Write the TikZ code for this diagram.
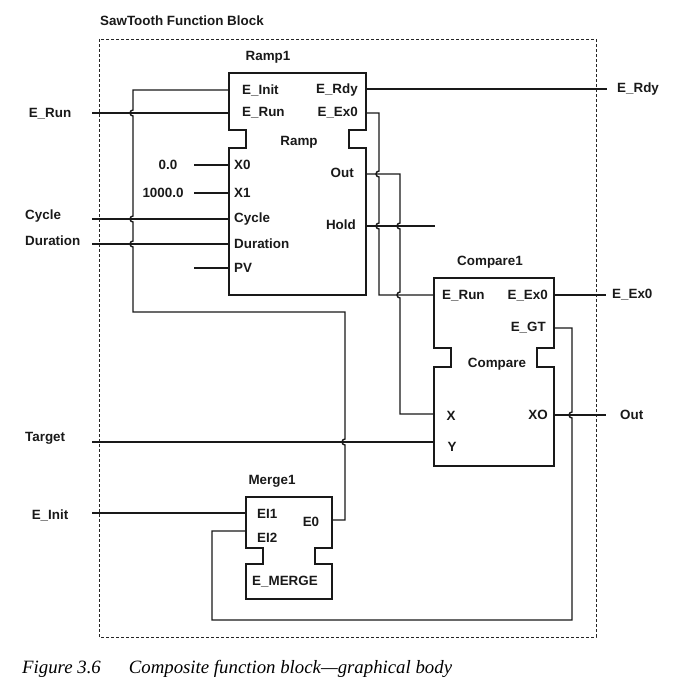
\documentclass[tikz,border=0pt]{standalone}
\usepackage{fontspec}
\setmainfont{Liberation Sans}
\newfontfamily\capfont{Liberation Serif}
% outline of a function block: left, top, right, bottom, notch top, notch bottom
\newcommand{\fbshape}[6]{\draw[blk] (#1,#2) -- (#3,#2) -- (#3,#5) -- (#3-17,#5) -- (#3-17,#6) -- (#3,#6) -- (#3,#4) -- (#1,#4) -- (#1,#6) -- (#1+17,#6) -- (#1+17,#5) -- (#1,#5) -- cycle;}
\begin{document}
\begin{tikzpicture}[x=1pt,y=-1pt,
	wire/.style={line width=1.4pt,black!90},
	blk/.style={line width=1.7pt,black!90},
	lbl/.style={font=\fontsize{13.4}{15}\selectfont\bfseries,inner sep=0pt,text=black!90}]
	\useasboundingbox (0,0) rectangle (674,690);
	% frame
	\draw[line width=0.9pt,dash pattern=on 3pt off 2pt,black!85] (99,39) rectangle (596,637);
	\node[lbl,anchor=west] (title) at (100,21) {SawTooth Function Block};
	% blocks
	\fbshape{229}{73}{366}{295}{130}{148}
	\fbshape{434}{278}{554}{466}{348}{367}
	\fbshape{246}{497}{332}{599}{548}{564}
	% ports
	\coordinate (r-einit) at (229,90);
	\coordinate (r-erun) at (229,113);
	\coordinate (r-x0) at (229,165);
	\coordinate (r-x1) at (229,193);
	\coordinate (r-cycle) at (229,219);
	\coordinate (r-dur) at (229,244);
	\coordinate (r-pv) at (229,268);
	\coordinate (r-erdy) at (366,89);
	\coordinate (r-eex0) at (366,113);
	\coordinate (r-out) at (366,174);
	\coordinate (r-hold) at (366,226);
	\coordinate (c-erun) at (434,295);
	\coordinate (c-x) at (434,414);
	\coordinate (c-y) at (434,442);
	\coordinate (c-eex0) at (554,295);
	\coordinate (c-egt) at (554,328);
	\coordinate (c-xo) at (554,415);
	\coordinate (m-ei1) at (246,513);
	\coordinate (m-ei2) at (246,531);
	\coordinate (m-e0) at (332,520);
	% free ends
	\coordinate (in-erun) at (92,113);
	\coordinate (in-cycle) at (92,219);
	\coordinate (in-dur) at (92,244);
	\coordinate (in-target) at (92,442);
	\coordinate (in-einit) at (92,513);
	\coordinate (k-x0) at (194,165);
	\coordinate (k-x1) at (194,193);
	\coordinate (k-pv) at (194,268);
	\coordinate (out-erdy) at (607,89);
	\coordinate (out-eex0) at (606,295);
	\coordinate (out-out) at (606,415);
	\coordinate (hold-end) at (435,226);
	% block names
	\node[lbl] (ramp1) at (268,57) {Ramp1};
	\node[lbl] (compare1) at (490,262) {Compare1};
	\node[lbl] (merge1) at (272,481) {Merge1};
	% Ramp texts
	\node[lbl,anchor=west] (t-einit) at (242,90) {E\_Init};
	\node[lbl,anchor=west] (t-erun) at (242,113) {E\_Run};
	\node[lbl,anchor=east] (t-erdy) at (358,90) {E\_Rdy};
	\node[lbl,anchor=east] (t-eex0) at (358,113) {E\_Ex0};
	\node[lbl] (t-ramp) at (299,142) {Ramp};
	\node[lbl,anchor=west] (t-x0) at (234,165) {X0};
	\node[lbl,anchor=west] (t-x1) at (234,193) {X1};
	\node[lbl,anchor=west] (t-cycle) at (234,219) {Cycle};
	\node[lbl,anchor=west] (t-dur) at (234,244) {Duration};
	\node[lbl,anchor=west] (t-pv) at (234,268) {PV};
	\node[lbl,anchor=east] (t-out) at (354,173) {Out};
	\node[lbl,anchor=east] (t-hold) at (356,225) {Hold};
	\node[lbl] (v-x0) at (168,165) {0.0};
	\node[lbl] (v-x1) at (163,193) {1000.0};
	% Compare texts
	\node[lbl,anchor=west] (t-cerun) at (442,296) {E\_Run};
	\node[lbl,anchor=east] (t-ceex0) at (548,296) {E\_Ex0};
	\node[lbl,anchor=east] (t-cegt) at (546,328) {E\_GT};
	\node[lbl] (t-compare) at (497,364) {Compare};
	\node[lbl] (t-cx) at (451,416) {X};
	\node[lbl,anchor=east] (t-cxo) at (548,415) {XO};
	\node[lbl] (t-cy) at (452,447) {Y};
	% Merge texts
	\node[lbl,anchor=west] (t-ei1) at (257,514) {EI1};
	\node[lbl,anchor=west] (t-ei2) at (257,538) {EI2};
	\node[lbl] (t-e0) at (311,522) {E0};
	\node[lbl,anchor=west] (t-emerge) at (252,582) {E\_MERGE};
	% outer names
	\node[lbl] (n-erun) at (50,114) {E\_Run};
	\node[lbl,anchor=west] (n-cycle) at (25,216) {Cycle};
	\node[lbl,anchor=west] (n-dur) at (25,241) {Duration};
	\node[lbl,anchor=west] (n-target) at (25,438) {Target};
	\node[lbl] (n-einit) at (50,515) {E\_Init};
	\node[lbl,anchor=west] (n-erdy) at (617,89) {E\_Rdy};
	\node[lbl,anchor=west] (n-eex0) at (612,295) {E\_Ex0};
	\node[lbl,anchor=west] (n-out) at (620,415) {Out};
	% straight wires
	\draw[wire] (in-erun) -- (r-erun);
	\draw[wire] (in-cycle) -- (r-cycle);
	\draw[wire] (in-dur) -- (r-dur);
	\draw[wire] (k-x0) -- (r-x0);
	\draw[wire] (k-x1) -- (r-x1);
	\draw[wire] (k-pv) -- (r-pv);
	\draw[wire] (in-target) -- (c-y);
	\draw[wire] (in-einit) -- (m-ei1);
	\draw[wire] (r-erdy) -- (out-erdy);
	\draw[wire] (c-eex0) -- (out-eex0);
	\draw[wire] (r-hold) -- (hold-end);
	\draw[wire] (c-xo) -- (out-out);
	% wires with hops
	\draw[wire] (m-e0) -- (345,520) -- (345,445) arc[start angle=90,end angle=270,radius=3] -- (345,312) -- (133,312)
		-- (133,247) arc[start angle=90,end angle=270,radius=3] -- (133,222) arc[start angle=90,end angle=270,radius=3]
		-- (133,116) arc[start angle=90,end angle=270,radius=3] -- (133,90) -- (r-einit);
	\draw[wire] (r-eex0) -- (379,113) -- (379,171) arc[start angle=270,end angle=90,radius=3]
		-- (379,223) arc[start angle=270,end angle=90,radius=3] -- (379,295) -- (c-erun);
	\draw[wire] (r-out) -- (400,174) -- (400,223) arc[start angle=270,end angle=90,radius=3]
		-- (400,292) arc[start angle=270,end angle=90,radius=3] -- (400,414) -- (c-x);
	\draw[wire] (c-egt) -- (572,328) -- (572,412) arc[start angle=270,end angle=90,radius=3]
		-- (572,620) -- (212,620) -- (212,531) -- (m-ei2);
	% caption
	\node[anchor=base west,inner sep=0pt,font=\capfont\itshape\fontsize{18.8}{20}\selectfont] (caption) at (22,673)
		{Figure 3.6\hspace{28pt}Composite function block—graphical body};
\end{tikzpicture}
\end{document}
